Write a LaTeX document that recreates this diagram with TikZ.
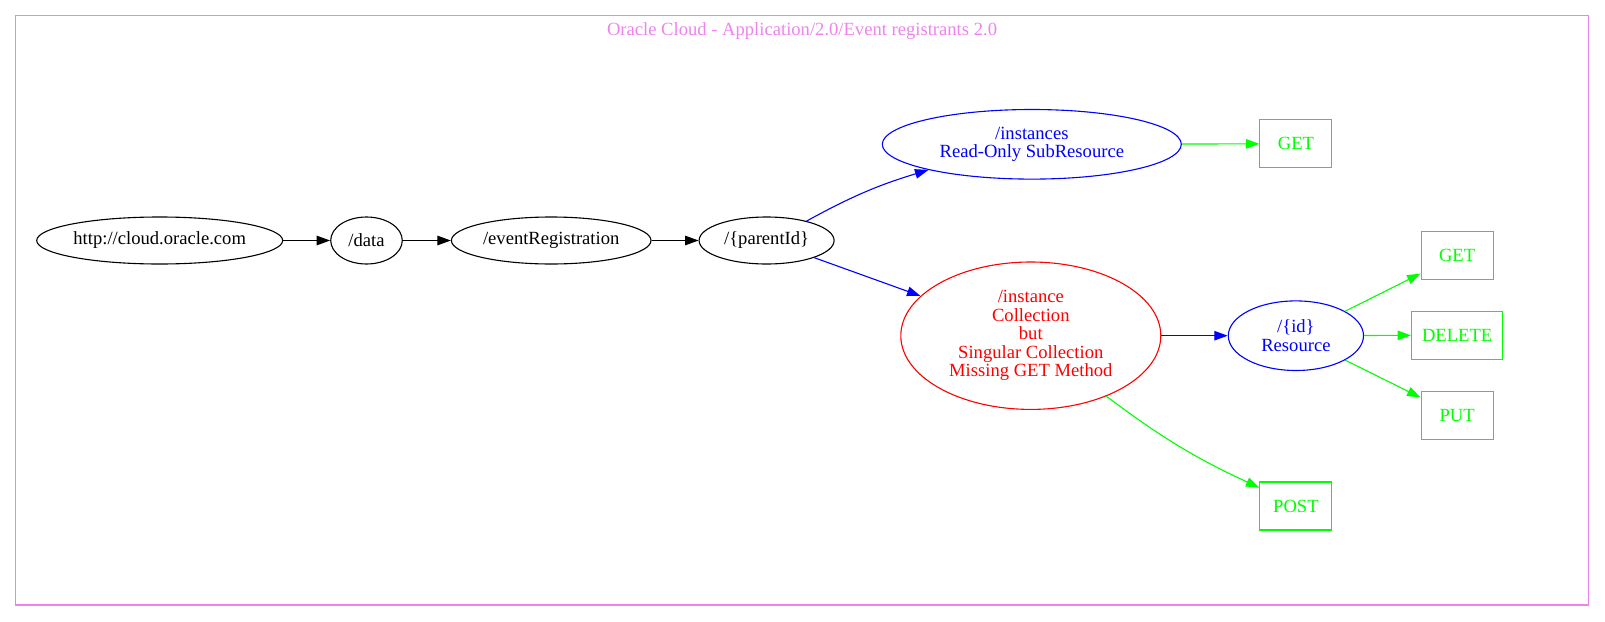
\documentclass[tikz,border=0pt]{standalone}
\usepackage{fontspec}
\setmainfont{Liberation Serif}
\usetikzlibrary{shapes.geometric,arrows.meta}
\definecolor{gvgreen}{RGB}{0,255,0}
\definecolor{gvblue}{RGB}{0,0,255}
\definecolor{gvred}{RGB}{255,0,0}
\definecolor{gvviolet}{RGB}{238,130,238}
\begin{document}
\begin{tikzpicture}[x=1pt,y=-1pt,
  every node/.style={font=\fontsize{18.6}{18.5}\selectfont, align=center},
  ell/.style={ellipse, draw, line width=1.1pt, inner sep=0pt},
  meth/.style={rectangle, draw=gvgreen, text=gvgreen, line width=1.1pt, minimum width=72pt, minimum height=48pt, inner sep=0pt},
  conn/.style={line width=1.1pt, -{Triangle[length=13.5pt,width=9.5pt]}},
]
\useasboundingbox (0,0) rectangle (1605,621);
\draw[gvviolet, line width=1.1pt] (15.5,15.5) rectangle (1588.5,605);
\node[text=gvviolet] (title) at (802,31.5) {Oracle Cloud - Application/2.0/Event registrants 2.0};

\node[ell, minimum width=246pt, minimum height=47pt] (root) at (159.7,240.5) {http://cloud.oracle.com};
\node[ell, minimum width=71.6pt, minimum height=47pt] (data) at (366.5,240.5) {/data};
\node[ell, minimum width=199.6pt, minimum height=47pt] (evt) at (551.2,240.5) {/eventRegistration};
\node[ell, minimum width=135pt, minimum height=47pt] (pid) at (766.6,240.5) {/\{parentId\}};
\node[ell, draw=gvblue, text=gvblue, minimum width=299pt, minimum height=69.6pt] (insts) at (1031.8,144.3) {/instances\\Read-Only SubResource};
\node[ell, draw=gvred, text=gvred, minimum width=260pt, minimum height=147.4pt] (inst) at (1030.8,335.7) {/instance\\Collection\\but\\Singular Collection\\Missing GET Method};
\node[ell, draw=gvblue, text=gvblue, minimum width=135.2pt, minimum height=69.6pt] (id) at (1295.9,335.7) {/\{id\}\\Resource};

\node[meth] (get1) at (1295.9,143.8) {GET};
\node[meth] (get2) at (1457.1,255.4) {GET};
\node[meth, minimum width=91pt] (del) at (1457.1,335.2) {DELETE};
\node[meth] (put) at (1457.1,415.6) {PUT};
\node[meth] (post) at (1295.9,506) {POST};

\draw[conn] (root) -- (data);
\draw[conn] (data) -- (evt);
\draw[conn] (evt) -- (pid);
\draw[conn, gvblue] (pid) to[bend left=6] (insts);
\draw[conn, gvblue] (pid) -- (inst);
\draw[conn, gvgreen] (insts) -- (get1);
\draw[conn, gvblue] (inst) -- (id);
\draw[conn, gvgreen] (inst) to[bend right=6] (post);
\draw[conn, gvgreen] (id) -- (get2);
\draw[conn, gvgreen] (id) -- (del);
\draw[conn, gvgreen] (id) -- (put);
\end{tikzpicture}
\end{document}
